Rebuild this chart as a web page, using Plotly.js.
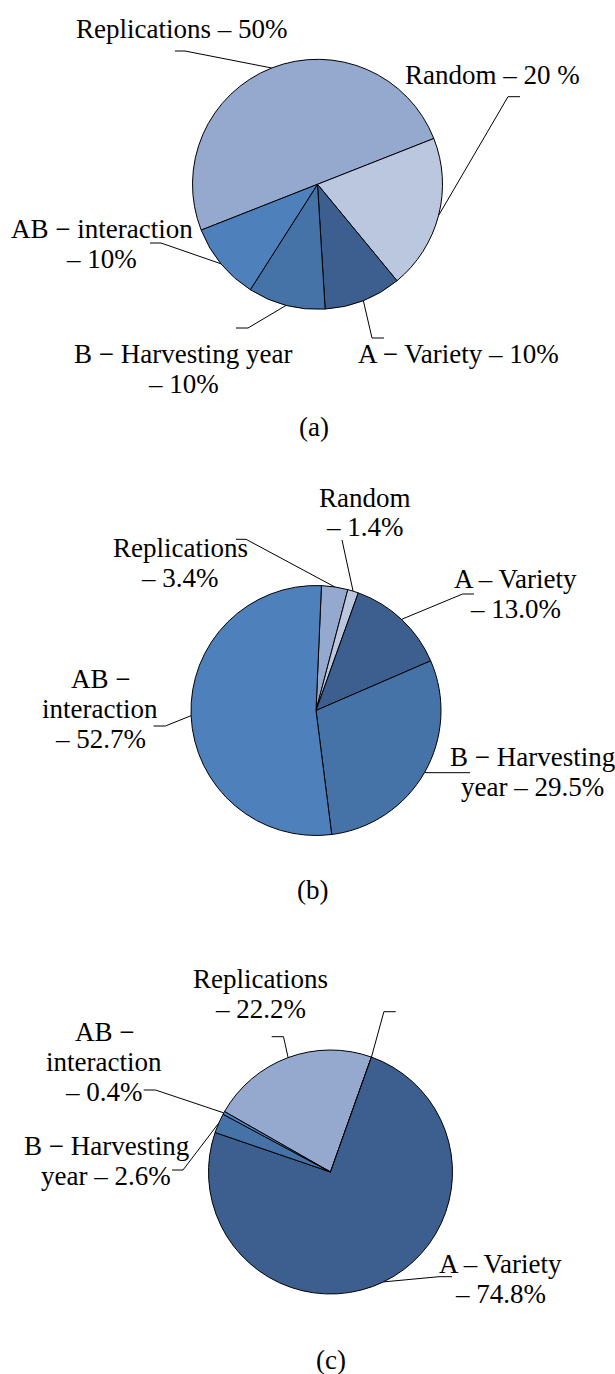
<!DOCTYPE html>
<html>
<head>
<meta charset="utf-8">
<script src="https://cdn.plot.ly/plotly-3.0.1.min.js"></script>
<style>html,body{margin:0;padding:0;background:#fff;}#chart{width:615px;height:1374px;}</style>
</head>
<body>
<div id="chart"></div>
<script>
// ---------------- data ----------------
const categories = ['Replications', 'Random', 'A – Variety', 'B – Harvesting year', 'AB – interaction'];
const valuesA = [50, 20, 10, 10, 10];
const valuesB = [3.4, 1.4, 13.0, 29.5, 52.7];
const valuesC = [22.2, 0.0, 74.8, 2.6, 0.4];
const sliceColors = ['#95A9CF', '#BAC7DF', '#3C5F8F', '#4673A7', '#4E80BC'];

// label text lines (per slice, per panel)
const labelsA = [['Replications – 50%'], ['Random – 20 %'], ['A − Variety – 10%'], ['B − Harvesting year', '– 10%'], ['AB − interaction', '– 10%']];
const labelsB = [['Replications', '– 3.4%'], ['Random', '– 1.4%'], ['A – Variety', '– 13.0%'], ['B − Harvesting', 'year – 29.5%'], ['AB −', 'interaction', '– 52.7%']];
const labelsC = [['Replications', '– 22.2%'], [], ['A – Variety', '– 74.8%'], ['B − Harvesting', 'year – 2.6%'], ['AB −', 'interaction', '– 0.4%']];
const panelTags = ['(a)', '(b)', '(c)'];

// ---------------- layout settings (pixels) ----------------
const W = 615, H = 1374;
const FONT = 'Liberation Serif';
const FS = 27, LINE = 30;

const panels = [
  { values: valuesA, labels: labelsA, cx: 317.5, cy: 184.3, r: 125, rotation: 248.5,
    tag: [314, 427],
    text: [[181, 29], [492, 75], [458, 354], [183, 354], [101.5, 229]],
    leader: [[175, 185, 51], [520, 508, 96.7], [384, 372, 338], [236, 248, 328], [150, 161, 243]] },
  { values: valuesB, labels: labelsB, cx: 316, cy: 710.5, r: 125, rotation: 2.5,
    tag: [312.5, 890],
    text: [[180, 548], [365, 497.5], [515, 578.5], [532, 757], [100, 678.5]],
    leader: [[236, 246, 539.3], [342, 342, 540], [474, 462.6, 594], [470, 427, 772.7], [153.5, 165.4, 726]] },
  { values: valuesC, labels: labelsC, cx: 330.5, cy: 1172, r: 122, rotation: -60.3,
    tag: [331, 1360],
    text: [[260, 979], [0, 0], [500, 1263.5], [106, 1146], [104, 1031.5]],
    leader: [[271.7, 283.5, 1036.7], [395.7, 383.9, 1011.7], [452, 439, 1276.7], [172, 183, 1170], [143.7, 155.5, 1090]] }
];

const px = x => x / W;
const py = y => 1 - y / H;

const traces = [];
const annotations = [];
const shapes = [];

panels.forEach((p, k) => {
  traces.push({
    type: 'pie',
    labels: categories,
    values: p.values,
    sort: false,
    direction: 'clockwise',
    rotation: p.rotation,
    textinfo: 'none',
    hoverinfo: 'none',
    showlegend: false,
    marker: { colors: sliceColors, line: { color: '#000', width: 1 } },
    domain: { x: [px(p.cx - p.r), px(p.cx + p.r)], y: [py(p.cy + p.r), py(p.cy - p.r)] }
  });

  const total = p.values.reduce((a, b) => a + b, 0);
  let cum = 0;
  p.values.forEach((v, i) => {
    const mid = (p.rotation + 360 * (cum + v / 2) / total) * Math.PI / 180;
    cum += v;
    const ax = p.cx + p.r * Math.sin(mid);
    const ay = p.cy - p.r * Math.cos(mid);
    const [x0, x1, yl] = p.leader[i];
    shapes.push({
      type: 'path', xref: 'paper', yref: 'paper',
      path: `M ${px(x0)} ${py(yl)} L ${px(x1)} ${py(yl)} L ${px(ax)} ${py(ay)}`,
      line: { color: '#000', width: 1 }
    });
    p.labels[i].forEach((t, j) => {
      annotations.push({
        xref: 'paper', yref: 'paper',
        x: px(p.text[i][0]), y: py(p.text[i][1] + j * LINE),
        xanchor: 'center', yanchor: 'middle',
        text: t, showarrow: false,
        font: { family: FONT, size: FS, color: '#000' }
      });
    });
  });

  annotations.push({
    xref: 'paper', yref: 'paper', x: px(p.tag[0]), y: py(p.tag[1]),
    xanchor: 'center', yanchor: 'middle', text: panelTags[k], showarrow: false,
    font: { family: FONT, size: FS, color: '#000' }
  });
});

const layout = {
  width: W, height: H,
  margin: { l: 0, r: 0, t: 0, b: 0 },
  paper_bgcolor: '#fff', plot_bgcolor: '#fff',
  showlegend: false,
  font: { family: FONT },
  annotations: annotations,
  shapes: shapes
};

Plotly.newPlot('chart', traces, layout, { displayModeBar: false, staticPlot: true });
</script>
</body>
</html>
